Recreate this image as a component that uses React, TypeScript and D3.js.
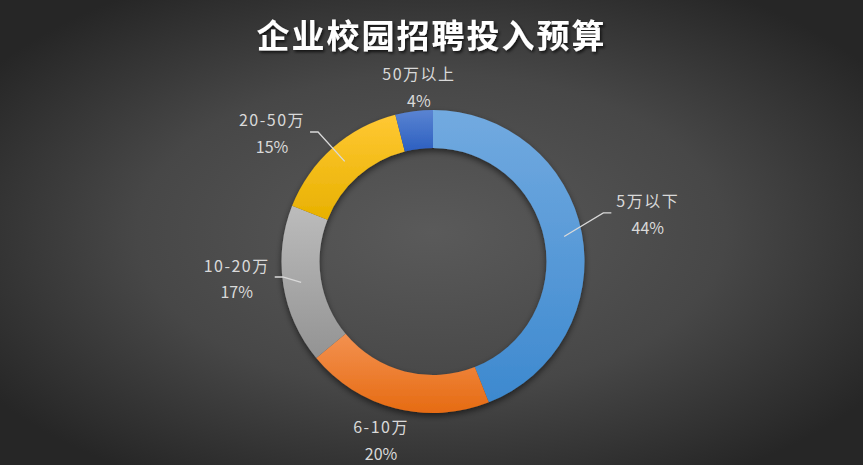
import React, { useEffect, useRef } from "react";
import * as d3 from "d3";

const title = "企业校园招聘投入预算";
const categories = ["5万以下", "6-10万", "10-20万", "20-50万", "50万以上"];
const values = [44, 20, 17, 15, 4];
const percentLabels = ["44%", "20%", "17%", "15%", "4%"];

// top / bottom colours of each slice's vertical gradient
const colorTop = ["#72aae0", "#f39150", "#bcbcbc", "#ffc833", "#5a84d2"];
const colorBottom = ["#3d89cf", "#e66b12", "#939393", "#e8b100", "#2c5fc0"];

// where Excel put each label: distance from centre, angle nudge (deg), leader line?
const labelLayout: Record<string, { r: number; nudge: number; leader: boolean }> = {
  "5万以下": { r: 220, nudge: -1.7, leader: true },
  "6-10万": { r: 185, nudge: 1.9, leader: false },
  "10-20万": { r: 197, nudge: 4.2, leader: true },
  "20-50万": { r: 206, nudge: -10, leader: true },
  "50万以上": { r: 176, nudge: 2.6, leader: false },
};

const W = 863;
const H = 465;

export default function App() {
  const ref = useRef<SVGSVGElement>(null);

  useEffect(() => {
    document.body.style.margin = "0";
    const svg = d3.select(ref.current);
    svg.selectAll("*").remove();

    const cx = 433;
    const cy = 261.5;
    const outerR = 151.5;
    const innerR = 113.5;
    const font = "'Noto Sans CJK SC', 'Noto Sans', sans-serif";

    const defs = svg.append("defs");
    const bg = defs
      .append("radialGradient")
      .attr("id", "bg")
      .attr("cx", "50%")
      .attr("cy", "50%")
      .attr("r", "62%");
    bg.append("stop").attr("offset", "0%").attr("stop-color", "#5a5a5a");
    bg.append("stop").attr("offset", "55%").attr("stop-color", "#474747");
    bg.append("stop").attr("offset", "100%").attr("stop-color", "#262626");

    categories.forEach((c, i) => {
      const g = defs
        .append("linearGradient")
        .attr("id", `slice${i}`)
        .attr("x1", 0)
        .attr("y1", 0)
        .attr("x2", 0)
        .attr("y2", 1);
      g.append("stop").attr("offset", "0%").attr("stop-color", colorTop[i]);
      g.append("stop").attr("offset", "100%").attr("stop-color", colorBottom[i]);
    });

    const shadow = defs
      .append("filter")
      .attr("id", "shadow")
      .attr("x", "-20%")
      .attr("y", "-20%")
      .attr("width", "140%")
      .attr("height", "140%");
    shadow
      .append("feDropShadow")
      .attr("dx", 0)
      .attr("dy", 3)
      .attr("stdDeviation", 3)
      .attr("flood-color", "#000")
      .attr("flood-opacity", 0.55);

    const titleShadow = defs.append("filter").attr("id", "tshadow");
    titleShadow
      .append("feDropShadow")
      .attr("dx", 1.5)
      .attr("dy", 2)
      .attr("stdDeviation", 1.5)
      .attr("flood-color", "#000")
      .attr("flood-opacity", 0.7);

    svg.append("rect").attr("width", W).attr("height", H).attr("fill", "url(#bg)");

    svg
      .append("text")
      .attr("x", W / 2)
      .attr("y", 48)
      .attr("text-anchor", "middle")
      .attr("fill", "#ffffff")
      .attr("font-family", font)
      .attr("font-weight", "bold")
      .attr("font-size", 33)
      .attr("letter-spacing", 2)
      .attr("filter", "url(#tshadow)")
      .text(title);

    const data = categories.map((c, i) => ({ c, v: values[i], p: percentLabels[i], i }));
    const pie = d3
      .pie<(typeof data)[number]>()
      .value((d) => d.v)
      .sort(null);
    const arcs = pie(data);
    const arc = d3
      .arc<d3.PieArcDatum<(typeof data)[number]>>()
      .innerRadius(innerR)
      .outerRadius(outerR);

    const chart = svg.append("g").attr("transform", `translate(${cx},${cy})`);
    chart
      .append("g")
      .attr("filter", "url(#shadow)")
      .selectAll("path")
      .data(arcs)
      .join("path")
      .attr("d", arc)
      .attr("fill", (d) => `url(#slice${d.data.i})`);

    const polar = (angle: number, r: number): [number, number] => [
      Math.sin(angle) * r,
      -Math.cos(angle) * r,
    ];

    const labels = chart.append("g");
    const lines = chart.append("g");
    arcs.forEach((d) => {
      const lay = labelLayout[d.data.c];
      const mid = (d.startAngle + d.endAngle) / 2;
      const [lx, ly] = polar(mid + (lay.nudge * Math.PI) / 180, lay.r);

      const lg = labels.append("g");
      const name = lg
        .append("text")
        .attr("x", lx)
        .attr("y", ly - 13.5)
        .attr("text-anchor", "middle")
        .attr("dominant-baseline", "central")
        .attr("fill", "#d9d9d9")
        .attr("font-family", font)
        .attr("font-size", 16)
        .attr("letter-spacing", 1.5)
        .text(d.data.c);
      lg.append("text")
        .attr("x", lx)
        .attr("y", ly + 13.5)
        .attr("text-anchor", "middle")
        .attr("dominant-baseline", "central")
        .attr("fill", "#d9d9d9")
        .attr("font-family", font)
        .attr("font-size", 16)
        .text(d.data.p);

      if (lay.leader) {
        const halfW = (name.node() as SVGTextElement).getComputedTextLength() / 2;
        const start = polar(mid, (innerR + outerR) / 2 + 1);
        const dir = lx > start[0] ? -1 : 1;
        const end: [number, number] = [lx + dir * (halfW + 5), ly - 1];
        const elbow: [number, number] = [end[0] + dir * 8, ly - 1];
        lines
          .append("path")
          .attr("d", d3.line()([start, elbow, end]))
          .attr("fill", "none")
          .attr("stroke", "#d9d9d9")
          .attr("stroke-width", 1.3);
      }
    });
  }, []);

  return <svg ref={ref} width={W} height={H} viewBox={`0 0 ${W} ${H}`} style={{ display: "block" }} />;
}
